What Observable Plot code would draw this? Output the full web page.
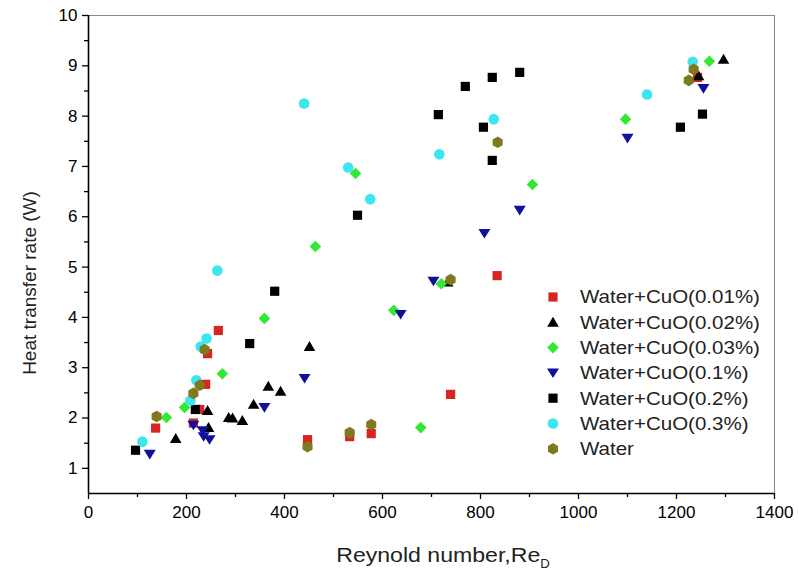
<!DOCTYPE html>
<html>
<head>
<meta charset="utf-8">
<script src="https://cdn.jsdelivr.net/npm/d3@7"></script>
<script src="https://cdn.jsdelivr.net/npm/@observablehq/plot@0.6"></script>
<style>
  html, body { margin: 0; padding: 0; background: #fff; }
  #chart { width: 798px; height: 576px; }
</style>
</head>
<body>
<div id="chart"></div>
<script>
// ---- data (Reynold number, heat transfer rate W) ----
const seriesNames = ["Water+CuO(0.01%)", "Water+CuO(0.02%)", "Water+CuO(0.03%)", "Water+CuO(0.1%)", "Water+CuO(0.2%)", "Water+CuO(0.3%)", "Water"];
const seriesColors = ["#d92424", "#000000", "#33e833", "#10109a", "#000000", "#3ce6ee", "#7f7a1f"];

const cuo001 = [[137,1.8],[214,1.9],[227,2.17],[239,2.67],[243,3.28],[265,3.74],[447,1.57],[533,1.63],[577,1.69],[739,2.47],[834,4.83],[1243,8.77]];
const cuo002 = [[178,1.59],[243,2.15],[245,1.81],[286,2.01],[294,2.0],[314,1.95],[337,2.27],[367,2.63],[392,2.53],[451,3.42],[733,4.7],[1245,8.8],[1296,9.13]];
const cuo003 = [[159,2.01],[196,2.21],[273,2.88],[359,3.98],[463,5.41],[545,6.86],[623,4.14],[678,1.81],[720,4.67],[906,6.64],[1096,7.94],[1267,9.09]];
const cuo01  = [[125,1.28],[214,1.86],[233,1.75],[235,1.63],[247,1.57],[359,2.21],[441,2.79],[637,4.06],[704,4.72],[808,5.67],[880,6.13],[1100,7.56],[1255,8.55]];
const cuo02  = [[96,1.36],[218,2.17],[329,3.48],[380,4.52],[549,6.03],[714,8.03],[769,8.59],[806,7.78],[824,8.77],[824,7.12],[880,8.87],[1208,7.78],[1253,8.04]];
const cuo03  = [[110,1.53],[208,2.35],[220,2.75],[229,3.42],[241,3.58],[263,4.93],[440,8.25],[530,6.98],[575,6.35],[716,7.24],[827,7.94],[1140,8.43],[1233,9.08]];
const water  = [[139,2.03],[214,2.49],[227,2.65],[237,3.36],[447,1.43],[533,1.71],[577,1.87],[739,4.75],[835,7.48],[1225,8.71],[1235,8.93]];

const xTicks = [0, 200, 400, 600, 800, 1000, 1200, 1400];
const yTicks = [1, 2, 3, 4, 5, 6, 7, 8, 9, 10];
const xTitle = "Reynold number,Re";
const xTitleSub = "D";
const yTitle = "Heat transfer rate (W)";

// ---- symbols (custom shapes drawn at fixed pixel sizes) ----
const symSquare = {draw(c){ const h = 4.6; c.rect(-h, -h, 2*h, 2*h); }};
const symTriUp = {draw(c){ c.moveTo(0,-5.6); c.lineTo(5.8,4.4); c.lineTo(-5.8,4.4); c.closePath(); }};
const symDiamond = {draw(c){ const h = 5.8; c.moveTo(0,-h); c.lineTo(h,0); c.lineTo(0,h); c.lineTo(-h,0); c.closePath(); }};
const symTriDown = {draw(c){ c.moveTo(0,5.2); c.lineTo(6,-4.4); c.lineTo(-6,-4.4); c.closePath(); }};
const symCircle = {draw(c){ c.moveTo(5.3,0); c.arc(0,0,5.3,0,2*Math.PI); }};
const symHex = {draw(c){ const r = 5.8; for (let i=0;i<6;i++){ const a = Math.PI/6 + i*Math.PI/3; const px = r*Math.cos(a), py = r*Math.sin(a); if(i===0) c.moveTo(px,py); else c.lineTo(px,py);} c.closePath(); }};
const seriesSymbols = [symSquare, symTriUp, symDiamond, symTriDown, symSquare, symCircle, symHex];
const seriesData = [cuo001, cuo002, cuo003, cuo01, cuo02, cuo03, water];

const dotMarks = seriesData.map((arr, i) =>
  Plot.dot(arr.map(([x, y]) => ({x, y, series: seriesNames[i]})), {
    x: "x", y: "y", r: 5, symbol: seriesSymbols[i], fill: seriesColors[i], stroke: "none"
  })
);

const font = "'Liberation Sans', Arial, sans-serif";

const plot = Plot.plot({
  width: 798,
  height: 576,
  marginLeft: 88,
  marginRight: 24,
  marginTop: 15,
  marginBottom: 83,
  style: {fontFamily: font, fontSize: "17px", color: "#000", background: "#fff"},
  x: {domain: [0, 1400]},
  y: {domain: [0.5, 10]},
  marks: [
    Plot.frame({stroke: "#888", strokeWidth: 1}),
    Plot.axisX({ticks: xTicks, tickSize: 6, tickPadding: 6, label: null, tickFormat: d => String(d), fontSize: 17, strokeWidth: 1.3}),
    Plot.axisX({ticks: d3.range(100, 1400, 200), tickSize: 4, text: null, label: null, strokeWidth: 1.3}),
    Plot.axisY({ticks: yTicks, tickSize: 6, tickPadding: 5, label: null, tickFormat: d => String(d), fontSize: 17, strokeWidth: 1.3}),
    Plot.axisY({ticks: d3.range(1.5, 10, 1), tickSize: 4, text: null, label: null, strokeWidth: 1.3}),
    Plot.ruleX([0], {stroke: "#000", strokeWidth: 1.6}),
    Plot.ruleY([0.5], {stroke: "#000", strokeWidth: 1.6}),
    ...dotMarks
  ]
});

document.getElementById("chart").appendChild(plot);

// ---- axis titles and legend ----
const svg = d3.select(plot);
const xt = svg.append("text")
  .attr("transform", "translate(443,562) scale(1.1,1)")
  .attr("text-anchor", "middle")
  .attr("font-family", font).attr("font-size", 21).attr("fill", "#222");
xt.append("tspan").text(xTitle);
xt.append("tspan").attr("font-size", 12).attr("dy", 6).text(xTitleSub);

svg.append("text")
  .attr("transform", "translate(36,283) rotate(-90)")
  .attr("text-anchor", "middle")
  .attr("font-family", font).attr("font-size", 19).attr("fill", "#222")
  .text(yTitle);

const legend = svg.append("g").attr("text-anchor", "start");
seriesNames.forEach((name, i) => {
  const y = 297 + i * 25.3;
  legend.append("path")
    .attr("transform", `translate(553,${y})`)
    .attr("d", d3.symbol(seriesSymbols[i])())
    .attr("fill", seriesColors[i]);
  legend.append("text")
    .attr("transform", `translate(580,${y}) scale(1.14,1)`)
    .attr("dy", "0.35em")
    .attr("text-anchor", "start")
    .attr("font-family", font).attr("font-size", 18).attr("fill", "#222")
    .text(name);
});
</script>
</body>
</html>
